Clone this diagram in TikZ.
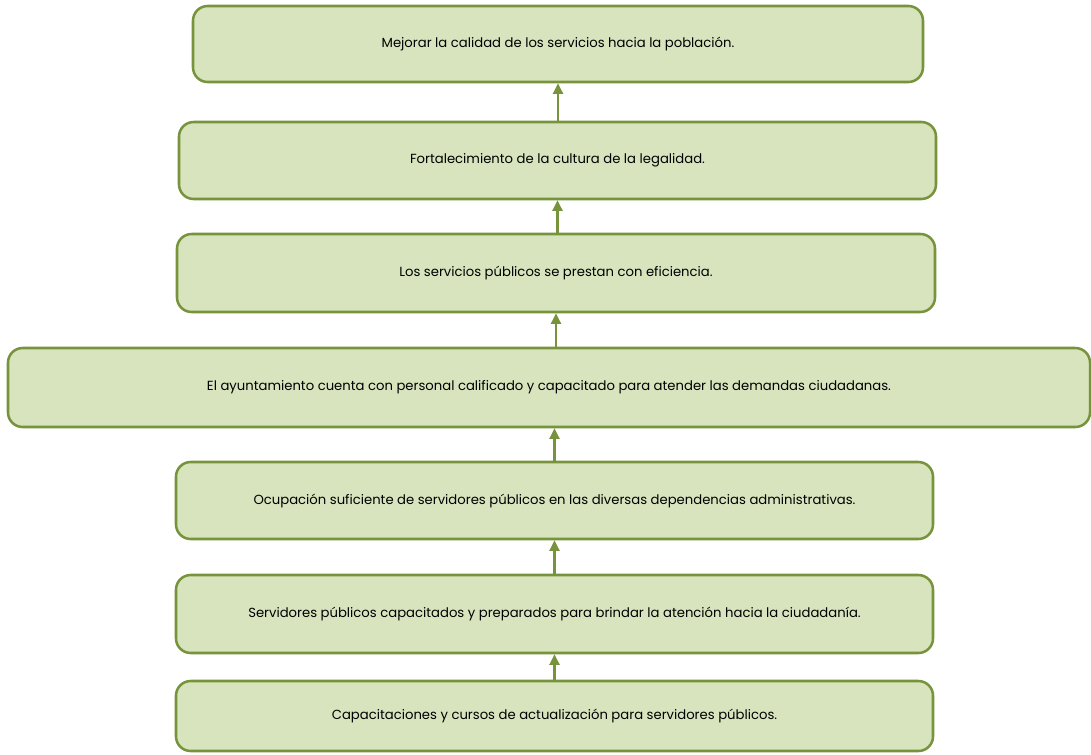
\documentclass[tikz,border=0pt]{standalone}
\usepackage{fontspec}
\setmainfont{Poppins}
\usetikzlibrary{arrows.meta}
\definecolor{boxfill}{HTML}{D7E4BD}
\definecolor{boxline}{HTML}{77933C}

\begin{document}
\begin{tikzpicture}[x=0.75pt, y=-0.75pt, >={Triangle[length=8pt,width=7.5pt]},
    box/.style={draw=boxline, fill=boxfill, line width=1.9pt, rounded corners=11pt,
      inner sep=0pt, font=\fontsize{9.9}{11}\selectfont},
    arr/.style={->, draw=boxline, line width=1.8pt}]
    \useasboundingbox (0,0) rectangle (1091,754);
    % objetivos, de arriba hacia abajo
    \node[box, minimum width=547.5pt, minimum height=57pt] (fin) at (558,44)
        {Mejorar la calidad de los servicios hacia la población.};
    \node[box, minimum width=567.75pt, minimum height=57.75pt] (legal) at (557.5,160.5)
        {Fortalecimiento de la cultura de la legalidad.};
    \node[box, minimum width=568.5pt, minimum height=58.5pt] (eficiencia) at (556,273)
        {Los servicios públicos se prestan con eficiencia.};
    \node[box, minimum width=811.5pt, minimum height=59.25pt] (personal) at (549,387.5)
        {El ayuntamiento cuenta con personal calificado y capacitado para atender las demandas ciudadanas.};
    \node[box, minimum width=567.75pt, minimum height=57.75pt] (ocupacion) at (554.5,500.5)
        {Ocupación suficiente de servidores públicos en las diversas dependencias administrativas.};
    \node[box, minimum width=567.75pt, minimum height=58.5pt] (servidores) at (554.5,614)
        {Servidores públicos capacitados y preparados para brindar la atención hacia la ciudadanía.};
    \node[box, minimum width=567.75pt, minimum height=52.5pt] (cursos) at (554.5,716)
        {Capacitaciones y cursos de actualización para servidores públicos.};
    % flechas
    \draw[arr] (cursos.north) -- (cursos.north |- servidores.south);
    \draw[arr] (servidores.north) -- (servidores.north |- ocupacion.south);
    \draw[arr] (ocupacion.north) -- (ocupacion.north |- personal.south);
    \draw[arr] (eficiencia.south |- personal.north) -- (eficiencia.south);
    \draw[arr] (legal.south |- eficiencia.north) -- (legal.south);
    \draw[arr] (fin.south |- legal.north) -- (fin.south);
\end{tikzpicture}
\end{document}
